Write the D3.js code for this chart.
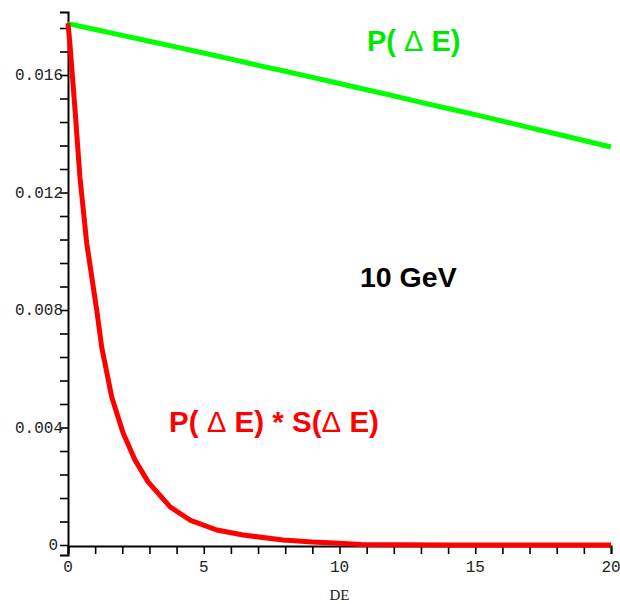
<!DOCTYPE html>
<html>
<head>
<meta charset="utf-8">
<script src="https://cdn.jsdelivr.net/npm/d3@7/dist/d3.min.js"></script>
<style>
  html, body { margin: 0; padding: 0; background: #fff; }
  svg { display: block; }
</style>
</head>
<body>
<svg id="chart" width="620" height="604"></svg>
<script>
// ---- data ----
const greenX = [0, 1, 2, 3, 4, 5, 6, 7, 8, 9, 10, 11, 12, 13, 14, 15, 16, 17, 18, 19, 20];
const greenY = [0.01775, 0.01755, 0.01735, 0.01715, 0.01695, 0.01675, 0.01654, 0.01633, 0.01613, 0.01592, 0.01571, 0.01550, 0.01529, 0.01507, 0.01486, 0.01465, 0.01443, 0.01421, 0.01399, 0.01377, 0.01355];

const redX = [0, 0.07, 0.26, 0.44, 0.69, 1.06, 1.24, 1.61, 2.03, 2.47, 2.95, 3.76, 4.49, 5.48, 6.45, 7.92, 9.0, 10.0, 10.8, 12, 14, 16, 18, 20];
const redY = [0.01776, 0.01707, 0.01480, 0.01252, 0.01027, 0.00799, 0.00674, 0.00504, 0.00381, 0.00289, 0.00215, 0.00130, 0.00085, 0.00051, 0.00034, 0.00017, 0.00010, 0.00006, 0.00002, 0.00001, 0, 0, 0, 0];

const xMajorTicks = [0, 5, 10, 15, 20];
const xTickLabels = ["0", "5", "10", "15", "20"];
const xMinorTicks = d3.range(0, 21, 1);
const yMajorTicks = [0, 0.004, 0.008, 0.012, 0.016];
const yTickLabels = ["0", "0.004", "0.008", "0.012", "0.016"];
const yMinorTicks = d3.range(0, 23).map(i => +(i * 0.0008).toFixed(5)).filter(v => v <= 0.0177);
const yDomain = [-0.00034, 0.018145];
const xLabel = "DE";

// ---- layout ----
const svg = d3.select("#chart");
const x = d3.scaleLinear().domain([0, 20]).range([68, 611]);
const y = d3.scaleLinear().domain(yDomain).range([555, 12]);

const monoFont = "'Liberation Mono', 'DejaVu Sans Mono', monospace";
const serifFont = "'Liberation Serif', 'DejaVu Serif', serif";
const sansFont = "'Liberation Sans', Arial, sans-serif";

// y axis
const yAxis = d3.axisLeft(y)
  .tickValues(yMinorTicks)
  .tickSizeInner(8)
  .tickSizeOuter(8)
  .tickFormat("");
const gy = svg.append("g").attr("transform", `translate(${x(0)},0)`).call(yAxis);
gy.select(".domain").attr("stroke", "#000").attr("stroke-width", 2);
gy.selectAll(".tick line").attr("stroke", "#000").attr("stroke-width", 1.6);

// x axis
const xAxis = d3.axisBottom(x)
  .tickValues(xMinorTicks)
  .tickSizeInner(8)
  .tickSizeOuter(8)
  .tickFormat("");
const gx = svg.append("g").attr("transform", `translate(0,${y(0) + 1})`).call(xAxis);
gx.select(".domain").attr("stroke", "#000").attr("stroke-width", 2);
gx.selectAll(".tick line").attr("stroke", "#000").attr("stroke-width", 1.6);

// y tick labels
svg.append("g").selectAll("text")
  .data(yMajorTicks)
  .join("text")
  .attr("x", d => d === 0 ? x(0) - 10 : x(0) - 5)
  .attr("y", d => y(d) + 5)
  .attr("text-anchor", "end")
  .attr("font-family", monoFont)
  .attr("font-size", 16)
  .attr("fill", "#222")
  .text((d, i) => yTickLabels[i]);

// x tick labels
svg.append("g").selectAll("text")
  .data(xMajorTicks)
  .join("text")
  .attr("x", d => x(d))
  .attr("y", 572)
  .attr("text-anchor", "middle")
  .attr("font-family", monoFont)
  .attr("font-size", 16)
  .attr("fill", "#222")
  .text((d, i) => xTickLabels[i]);

// x axis title
svg.append("text")
  .attr("x", x(10))
  .attr("y", 600)
  .attr("text-anchor", "middle")
  .attr("font-family", serifFont)
  .attr("font-size", 15)
  .attr("fill", "#222")
  .text(xLabel);

// curves
const line = d3.line().x(d => x(d[0])).y(d => y(d[1])).curve(d3.curveLinear);

svg.append("path")
  .datum(greenX.map((v, i) => [v, greenY[i]]))
  .attr("d", line)
  .attr("fill", "none")
  .attr("stroke", "#00ff00")
  .attr("stroke-width", 5)
  .attr("stroke-linejoin", "round");

svg.append("path")
  .datum(redX.map((v, i) => [v, redY[i]]))
  .attr("d", line)
  .attr("fill", "none")
  .attr("stroke", "#ff0000")
  .attr("stroke-width", 5)
  .attr("stroke-linejoin", "round");

// annotations
function label(px, py, parts, color, size) {
  const t = svg.append("text")
    .attr("x", px).attr("y", py)
    .attr("font-family", sansFont)
    .attr("font-size", size)
    .attr("fill", color)
    .attr("xml:space", "preserve");
  parts.forEach(p => {
    t.append("tspan").attr("font-weight", p[1] ? "bold" : "normal").text(p[0]);
  });
}

label(367, 51, [["P( ", true], ["\u0394", false], [" E)", true]], "#00e800", 29);
label(169, 432, [["P( ", true], ["\u0394", false], [" E) * S(", true], ["\u0394", false], [" E)", true]], "#ff0000", 29.5);
label(360, 287, [["10 GeV", true]], "#000", 28.5);
</script>
</body>
</html>
